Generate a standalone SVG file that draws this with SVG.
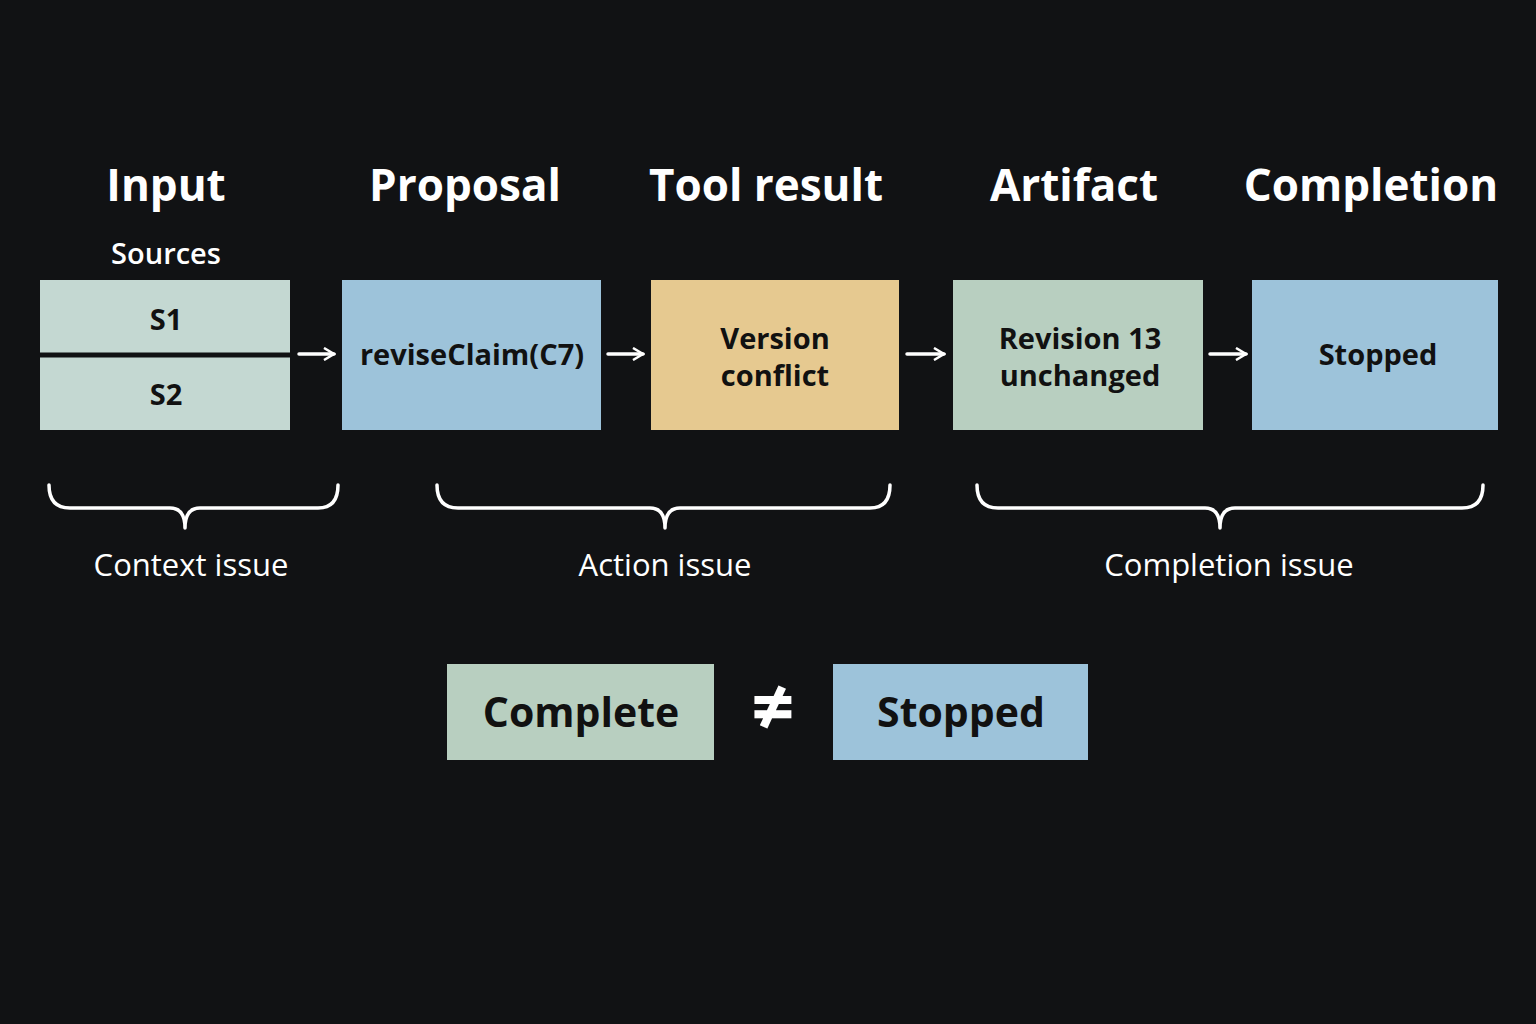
<svg xmlns="http://www.w3.org/2000/svg" width="1536" height="1024" viewBox="0 0 1536 1024">
<style>
.h{font-family:"Open Sans","Liberation Sans",sans-serif;font-weight:700;font-size:44px;fill:#fff;text-anchor:middle}
.t{font-family:"Open Sans","Liberation Sans",sans-serif;font-weight:700;font-size:29px;fill:#111;text-anchor:middle}
.l{font-family:"Open Sans","Liberation Sans",sans-serif;font-size:31px;fill:#fff;text-anchor:middle}
.b{fill:none;stroke:#fff;stroke-width:3.5;stroke-linecap:round;stroke-linejoin:round}
</style>
<defs><marker id="a" markerWidth="14" markerHeight="14" refX="12" refY="7" orient="auto" markerUnits="userSpaceOnUse"><path d="M2,1 L12,7 L2,13" fill="none" stroke="#fff" stroke-width="2.5"/></marker></defs>
<rect width="1536" height="1024" fill="#111214"/>
<g id="headers">
<text class="h" x="166" y="201">Input</text>
<text class="h" x="465" y="201">Proposal</text>
<text class="h" x="766" y="201">Tool result</text>
<text class="h" x="1074" y="201">Artifact</text>
<text class="h" x="1371" y="201">Completion</text>
<text class="t" x="166" y="264" style="fill:#fff;font-weight:600">Sources</text>
</g>
<g id="input">
<rect x="40" y="280" width="250" height="150" fill="#c4d8d2"/>
<line x1="40" y1="355" x2="290" y2="355" stroke="#111214" stroke-width="5"/>
<text class="t" x="166" y="330">S1</text>
<text class="t" x="166" y="405">S2</text>
</g>
<g id="proposal"><rect x="342" y="280" width="259" height="150" fill="#9dc3da"/><text class="t" x="472" y="365">reviseClaim(C7)</text></g>
<g id="tool"><rect x="651" y="280" width="248" height="150" fill="#e6c990"/><text class="t" x="775" y="349">Version</text><text class="t" x="775" y="386">conflict</text></g>
<g id="artifact"><rect x="953" y="280" width="250" height="150" fill="#b8cfc0"/><text class="t" x="1080" y="349">Revision 13</text><text class="t" x="1080" y="386">unchanged</text></g>
<g id="completion"><rect x="1252" y="280" width="246" height="150" fill="#9dc3da"/><text class="t" x="1378" y="365">Stopped</text></g>
<g id="connectors">
<line x1="299" y1="354" x2="334" y2="354" class="b" marker-end="url(#a)"/>
<line x1="608" y1="354" x2="643" y2="354" class="b" marker-end="url(#a)"/>
<line x1="907" y1="354" x2="944" y2="354" class="b" marker-end="url(#a)"/>
<line x1="1210" y1="354" x2="1246" y2="354" class="b" marker-end="url(#a)"/>
</g>
<g id="braces">
<path class="b" d="M49,485 Q49,508 70,508 L170,508 Q185,508 185,528 Q185,508 200,508 L318,508 Q338,508 338,485"/>
<path class="b" d="M437,485 Q437,508 458,508 L650,508 Q665,508 665,528 Q665,508 680,508 L870,508 Q890,508 890,485"/>
<path class="b" d="M977,485 Q977,508 998,508 L1205,508 Q1220,508 1220,528 Q1220,508 1235,508 L1462,508 Q1483,508 1483,485"/>
<text class="l" x="191" y="576">Context issue</text>
<text class="l" x="665" y="576">Action issue</text>
<text class="l" x="1229" y="576">Completion issue</text>
</g>
<g id="complete"><rect x="447" y="664" width="267" height="96" fill="#b8cfc0"/><text class="t" x="581" y="727" style="font-size:41px">Complete</text></g>
<g id="neq"><text class="h" x="773" y="734" style="font-size:76px">≠</text></g>
<g id="stopped2"><rect x="833" y="664" width="255" height="96" fill="#9dc3da"/><text class="t" x="961" y="727" style="font-size:41px">Stopped</text></g>
</svg>
